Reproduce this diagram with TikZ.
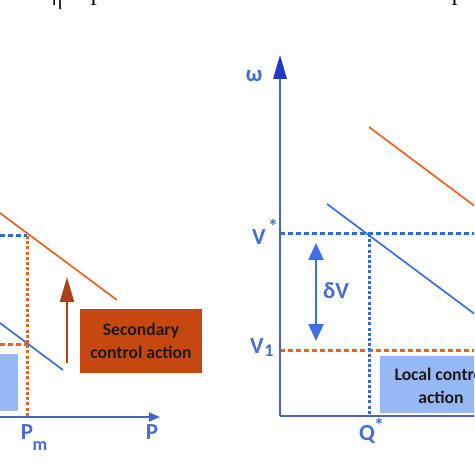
\documentclass[tikz,border=0pt]{standalone}
\usepackage{fontspec}
\setmainfont{Carlito}
\newfontfamily\seriffont{Liberation Serif}
\usetikzlibrary{arrows.meta}
\definecolor{axblue}{RGB}{72,100,196}
\definecolor{tipblue}{RGB}{30,60,200}
\definecolor{labblue}{RGB}{68,110,210}
\definecolor{dashblue}{RGB}{48,108,220}
\definecolor{droopblue}{RGB}{60,110,215}
\definecolor{orng}{RGB}{228,100,38}
\definecolor{boxred}{RGB}{197,72,14}
\definecolor{arrbrown}{RGB}{170,66,26}
\definecolor{lightbox}{RGB}{150,185,245}
\definecolor{arrblue}{RGB}{60,112,232}
\definecolor{txtdark}{RGB}{30,25,25}
\tikzset{
  axisline/.style={draw=axblue, line width=1pt},
  droopor/.style={draw=orng, line width=0.85pt},
  droopbl/.style={draw=droopblue, line width=0.85pt},
  dashbl/.style={draw=dashblue, line width=1.5pt, dash pattern=on 2.6pt off 1.4pt},
  dashor/.style={draw=orng, line width=1.5pt, dash pattern=on 2.6pt off 1.4pt},
  dotor/.style={draw=orng, line width=1.5pt, dash pattern=on 1.5pt off 1.1pt},
  dotbl/.style={draw=dashblue, line width=1.5pt, dash pattern=on 1.5pt off 1.1pt},
  lab/.style={text=labblue, font=\fontsize{11.5}{13}\selectfont\bfseries, inner sep=0pt},
  smlab/.style={text=labblue, font=\fontsize{9}{10}\selectfont\bfseries, inner sep=0pt},
  boxtxt/.style={text=txtdark, font=\fontsize{8.8}{11.5}\selectfont\bfseries, align=center, inner sep=0pt},
  toptxt/.style={font=\seriffont\fontsize{10}{12}\selectfont, anchor=base, inner sep=0pt}
}
\begin{document}
\begin{tikzpicture}[x=0.5pt,y=-0.5pt]
\useasboundingbox (0,0) rectangle (474,474);
\clip (0,0) rectangle (474,474);
% clipped text of the preceding line
\node[toptxt] (t1) at (57,6) {η};
\node[toptxt] (t2) at (96,6) {P};
\node[toptxt] (t3) at (457,6) {P};

% ---------------- left panel ----------------
\coordinate (LOrig) at (-20,417);
\coordinate (LPend) at (160,417);
\coordinate (LPm) at (27,417);
\coordinate (LPmtop) at (27,236);
\coordinate (LDash) at (0,236);
\coordinate (LOd) at (0,344);
\coordinate (LOdEnd) at (27,344);
\coordinate (LOa) at (0,213);
\coordinate (LOb) at (117,300);
\coordinate (LBa) at (0,323);
\coordinate (LBb) at (63,370);
\coordinate (LArrA) at (67,363);
\coordinate (LArrB) at (67,277);

\fill[lightbox] (-5,354) rectangle (18,411);
\draw[droopor] (LOa) -- (LOb);
\draw[droopbl] (LBa) -- (LBb);
\draw[dashbl] (LDash) -- (LPmtop);
\draw[dashor] (LOd) -- (LOdEnd);
\draw[dotor] (LPmtop) -- (LPm);
\draw[axisline, -{Triangle[length=5.5pt,width=4.5pt]}] (LOrig) -- (LPend);
\draw[arrbrown, line width=1.2pt, -{Triangle[length=12.5pt,width=7pt]}] (LArrA) -- (LArrB);
\node[fill=boxred, minimum width=61pt, minimum height=32pt, inner sep=0pt] (sec) at (141,341) {};
\node[boxtxt] (sectxt) at (sec.center) {Secondary\\control action};
\node[lab] (lPm) at (27,432) {P};
\node[smlab] (lm) at (40,446) {m};
\node[lab] (lP) at (152,432) {P};

% ---------------- right panel ----------------
\coordinate (ROrig) at (280,416);
\coordinate (Rtop) at (280,55);
\coordinate (Rright) at (480,416);
\coordinate (RVs) at (280,234);
\coordinate (RVsEnd) at (480,234);
\coordinate (RV1) at (280,350);
\coordinate (RV1End) at (480,350);
\coordinate (RQs) at (369,416);
\coordinate (RQsTop) at (369,234);
\coordinate (ROa) at (369,127);
\coordinate (ROb) at (480,210);
\coordinate (RBa) at (327,204);
\coordinate (RBb) at (480,318);
\coordinate (RdA) at (316,243);
\coordinate (RdB) at (316,341);

\node[fill=lightbox, minimum width=61pt, minimum height=28.5pt, inner sep=0pt] (loc) at (441,384.5) {};
\node[boxtxt] (loctxt) at (441,386) {Local control\\action};
\draw[droopor] (ROa) -- (ROb);
\draw[droopbl] (RBa) -- (RBb);
\draw[dashbl] (RVs) -- (RVsEnd);
\draw[dashor] (RV1) -- (RV1End);
\draw[dotbl] (RQsTop) -- (RQs);
\draw[axisline] (ROrig) -- (Rright);
\draw[axisline] (ROrig) -- (280,70);
\fill[tipblue] (280,55) -- (287,79) -- (273,79) -- cycle;
\draw[arrblue, line width=1.2pt, {Triangle[length=8.5pt,width=7.5pt]}-{Triangle[length=8.5pt,width=7.5pt]}] (RdA) -- (RdB);
\node[lab] (lw) at (254,76) {ω};
\node[lab] (ldV) at (336,291) {δV};
\node[lab] (lVs) at (259,237) {V};
\node[lab, font=\fontsize{10}{11}\selectfont\bfseries] (lVsst) at (273,226) {*};
\node[lab] (lV1) at (257,346) {V};
\node[smlab] (lV1s) at (269,351) {1};
\node[lab] (lQ) at (367,434) {Q};
\node[lab, font=\fontsize{10}{11}\selectfont\bfseries] (lQs) at (379,425) {*};
\end{tikzpicture}
\end{document}
